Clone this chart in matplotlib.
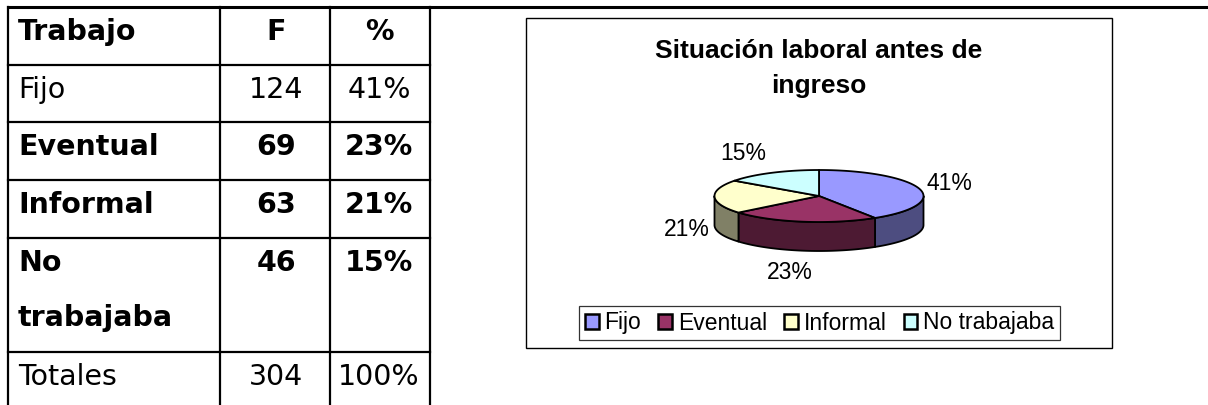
import numpy as np
import matplotlib.pyplot as plt
from matplotlib.patches import Polygon, Rectangle, Patch

# Table data
row_labels = ["Fijo", "Eventual", "Informal", "No\ntrabajaba", "Totales"]
freq = [124, 69, 63, 46, 304]
pct = ["41%", "23%", "21%", "15%", "100%"]
bold_rows = [False, True, True, True, False]

# Pie data
categories = ["Fijo", "Eventual", "Informal", "No trabajaba"]
shares = [41, 23, 21, 15]
top_colors = ["#9999FF", "#993366", "#FFFFCC", "#CCFFFF"]
side_colors = ["#4D4D80", "#4D1A33", "#808066", "#668080"]

W, H = 1208, 405
fig = plt.figure(figsize=(W / 100, H / 100), dpi=100)
ax = fig.add_axes([0, 0, 1, 1])
ax.set_xlim(0, W)
ax.set_ylim(H, 0)
ax.axis("off")

# ---- table (pixel layout) ----
col_x = [8, 220, 330, 430]
row_y = [7, 65, 122, 180, 238, 352, H]
lw = 1.6
tfont = "DejaVu Sans"
tsize = 20.5

ax.plot([col_x[0], W], [row_y[0], row_y[0]], color="black", lw=2.2)
for x in col_x:
    ax.plot([x, x], [row_y[0], H], color="black", lw=lw)
for y in row_y[1:-1]:
    ax.plot([col_x[0], col_x[-1]], [y, y], color="black", lw=lw)

c1 = (col_x[1] + col_x[2]) / 2 + 1
c2 = (col_x[2] + col_x[3]) / 2 - 1
hdr_base = row_y[0] + 33
ax.text(18, hdr_base, "Trabajo", fontsize=tsize, fontweight="bold", family=tfont, va="baseline")
ax.text(c1, hdr_base, "F", fontsize=tsize, fontweight="bold", family=tfont, va="baseline", ha="center")
ax.text(c2, hdr_base, "%", fontsize=tsize, fontweight="bold", family=tfont, va="baseline", ha="center")

for i, lab in enumerate(row_labels):
    base = row_y[i + 1] + 33
    fw = "bold" if bold_rows[i] else "normal"
    for j, line in enumerate(lab.split("\n")):
        ax.text(18, base + 55 * j, line, fontsize=tsize, fontweight=fw, family=tfont, va="baseline")
    ax.text(c1, base, str(freq[i]), fontsize=tsize, fontweight=fw, family=tfont, va="baseline", ha="center")
    ax.text(c2, base, pct[i], fontsize=tsize, fontweight=fw, family=tfont, va="baseline", ha="center")

# ---- chart box ----
ax.add_patch(Rectangle((526, 18), 586, 330, fill=False, edgecolor="black", lw=1.0))
cfont = "Liberation Sans"
ax.text(819, 58, "Situación laboral antes de", fontsize=19, fontweight="bold", family=cfont,
        ha="center", va="baseline")
ax.text(819, 93, "ingreso", fontsize=19, fontweight="bold", family=cfont, ha="center", va="baseline")

# ---- 3D pie ----
cx, cy, rx, ry, depth = 819, 196, 104.5, 26, 29
edge_lw = 1.3


def pt(theta_deg, dy=0.0):
    t = np.radians(theta_deg)
    return cx + rx * np.cos(t), cy - ry * np.sin(t) + dy


fracs = np.array(shares) / np.sum(shares)
bounds = 90 - 360 * np.concatenate([[0], np.cumsum(fracs)])

# side faces (front half only: angles between -180 and 0)
for i in range(len(shares)):
    a, b = bounds[i], bounds[i + 1]  # a > b, clockwise
    lo, hi = max(b, -180), min(a, 0)
    if lo >= hi:
        continue
    th = np.linspace(hi, lo, 60)
    top = [pt(t) for t in th]
    bot = [pt(t, depth) for t in th[::-1]]
    ax.add_patch(Polygon(top + bot, closed=True, facecolor=side_colors[i],
                         edgecolor="black", lw=edge_lw, joinstyle="round"))

# top faces
for i in range(len(shares)):
    a, b = bounds[i], bounds[i + 1]
    th = np.linspace(a, b, 100)
    verts = [(cx, cy)] + [pt(t) for t in th]
    ax.add_patch(Polygon(verts, closed=True, facecolor=top_colors[i],
                         edgecolor="black", lw=edge_lw, joinstyle="round"))

# percentage labels
label_nudge = [(9, 1), (-9, 0), (-6, 31), (-18, 0)]
for i in range(len(shares)):
    m = (bounds[i] + bounds[i + 1]) / 2
    s = np.sin(np.radians(m))
    lx = cx + (rx + 22) * np.cos(np.radians(m)) + label_nudge[i][0]
    ly = cy - (ry + 22) * s + depth * max(0, -s) + label_nudge[i][1]
    ax.text(lx, ly, f"{shares[i]}%", fontsize=16.5, family=cfont, ha="center", va="center")

# legend
handles = [Patch(facecolor=c, edgecolor="black", lw=1.8) for c in top_colors]
leg = ax.legend(handles, categories, loc="center", bbox_to_anchor=(819.5 / W, 1 - 323 / H),
                ncol=4, prop={"family": cfont, "size": 16.5}, handlelength=0.6, handleheight=0.6,
                handletextpad=0.25, columnspacing=0.75, borderpad=0.25, fancybox=False,
                framealpha=1, edgecolor="#333333")
leg.get_frame().set_linewidth(0.9)

fig.savefig("out.png", dpi=100)
